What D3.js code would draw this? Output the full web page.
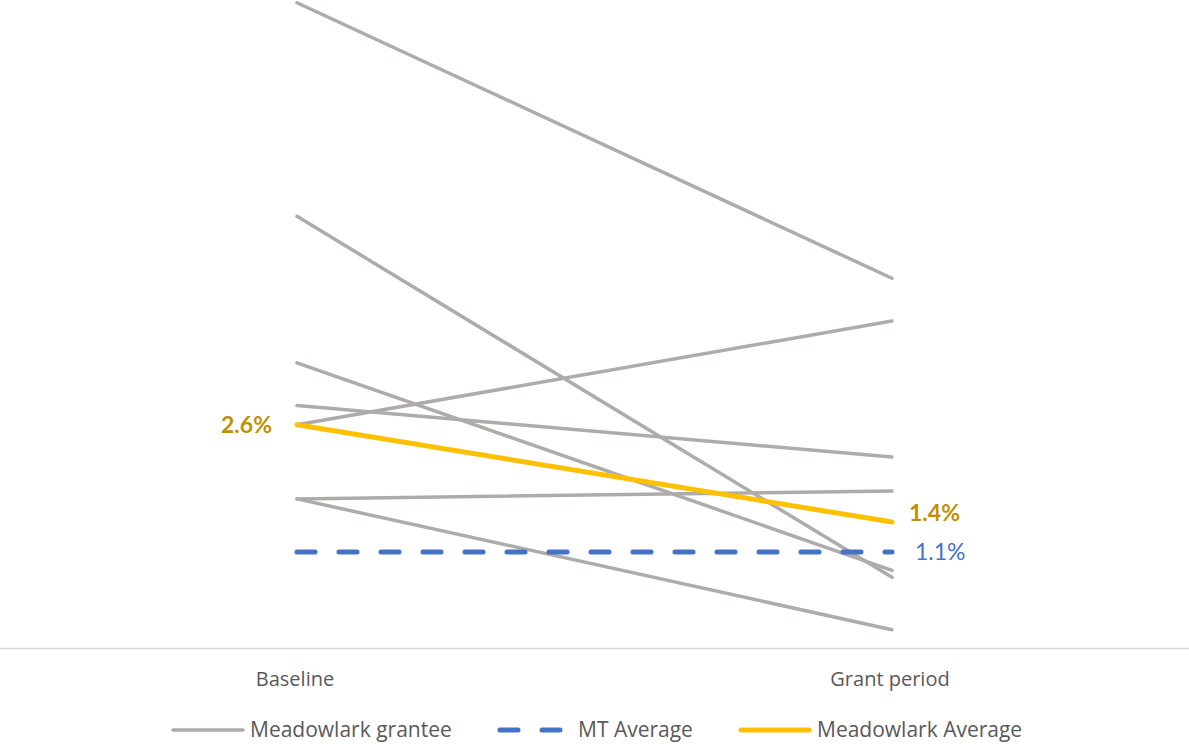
<!DOCTYPE html>
<html><head><meta charset="utf-8">
<script src="https://cdn.jsdelivr.net/npm/d3@7"></script>
<style>body{margin:0;background:#fff;}svg{display:block;}</style>
</head><body>
<script>
const categories = ["Baseline", "Grant period"];
const granteeSeries = [
  [7.40, 4.24],
  [4.95, 0.81],
  [3.27, 0.89],
  [2.78, 2.19],
  [2.56, 3.75],
  [1.71, 1.80],
  [1.71, 0.21]
];
const mtAverage = [1.10, 1.10];
const meadowlarkAverage = [2.56, 1.445];
const legendLabels = ["Meadowlark grantee", "MT Average", "Meadowlark Average"];

const W = 1189, H = 744;
const svg = d3.select("body").append("svg").attr("width", W).attr("height", H);
const x = d3.scalePoint().domain(categories).range([297, 892]);
const y = d3.scaleLinear().domain([0, 7.5]).range([648, -6]);
const line = d3.line().x((d, i) => x(categories[i])).y(d => y(d));

svg.append("line").attr("x1", 0).attr("x2", W).attr("y1", 648.5).attr("y2", 648.5)
  .attr("stroke", "#d9d9d9").attr("stroke-width", 1.5);

svg.selectAll("path.g").data(granteeSeries).enter().append("path")
  .attr("class", "g").attr("d", line).attr("fill", "none")
  .attr("stroke", "#AFABAB").attr("stroke-width", 3.5).attr("stroke-linecap", "round");

svg.append("path").attr("d", line(mtAverage)).attr("fill", "none")
  .attr("stroke", "#4472C4").attr("stroke-width", 5).attr("stroke-linecap", "round")
  .attr("stroke-dasharray", "18,24");

svg.append("path").attr("d", line(meadowlarkAverage)).attr("fill", "none")
  .attr("stroke", "#FFC000").attr("stroke-width", 5).attr("stroke-linecap", "round");

const fmt = d => d3.format(".1f")(d) + "%";
svg.append("text").attr("x", 272).attr("y", y(meadowlarkAverage[0])).attr("dy", "0.35em")
  .attr("text-anchor", "end").attr("font-family", "Lato, sans-serif").attr("font-weight", "bold")
  .attr("font-size", 23).attr("fill", "#BF9000").text(fmt(meadowlarkAverage[0]));
svg.append("text").attr("x", 909).attr("y", y(meadowlarkAverage[1]) - 9).attr("dy", "0.35em")
  .attr("font-family", "Lato, sans-serif").attr("font-weight", "bold")
  .attr("font-size", 23).attr("fill", "#BF9000").text(fmt(meadowlarkAverage[1]));
svg.append("text").attr("x", 915).attr("y", y(mtAverage[1])).attr("dy", "0.35em")
  .attr("font-family", "Lato, sans-serif").attr("font-weight", 400)
  .attr("font-size", 23).attr("fill", "#4472C4").text(fmt(mtAverage[1]));

svg.selectAll("text.cat").data(categories).enter().append("text").attr("class", "cat")
  .attr("x", d => x(d) - 2).attr("y", 686).attr("text-anchor", "middle")
  .attr("font-family", "'Liberation Sans Narrow', 'Open Sans', sans-serif").attr("font-size", 20)
  .attr("fill", "#595959").text(d => d);

const leg = [
  {x1: 173, x2: 243, tx: 250, color: "#AFABAB", dash: null, w: 3.5},
  {x1: 500, x2: 560, tx: 578, color: "#4472C4", dash: "18,24", w: 5},
  {x1: 741, x2: 809, tx: 817, color: "#FFC000", dash: null, w: 5}
];
leg.forEach((l, i) => {
  svg.append("line").attr("x1", l.x1).attr("x2", l.x2).attr("y1", 730).attr("y2", 730)
    .attr("stroke", l.color).attr("stroke-width", l.w).attr("stroke-linecap", "round")
    .attr("stroke-dasharray", l.dash);
  svg.append("text").attr("x", l.tx).attr("y", 730).attr("dy", "0.35em")
    .attr("font-family", "'Liberation Sans Narrow', 'Open Sans', sans-serif").attr("font-size", 21)
    .attr("fill", "#595959").text(legendLabels[i]);
});
</script>
</body></html>
